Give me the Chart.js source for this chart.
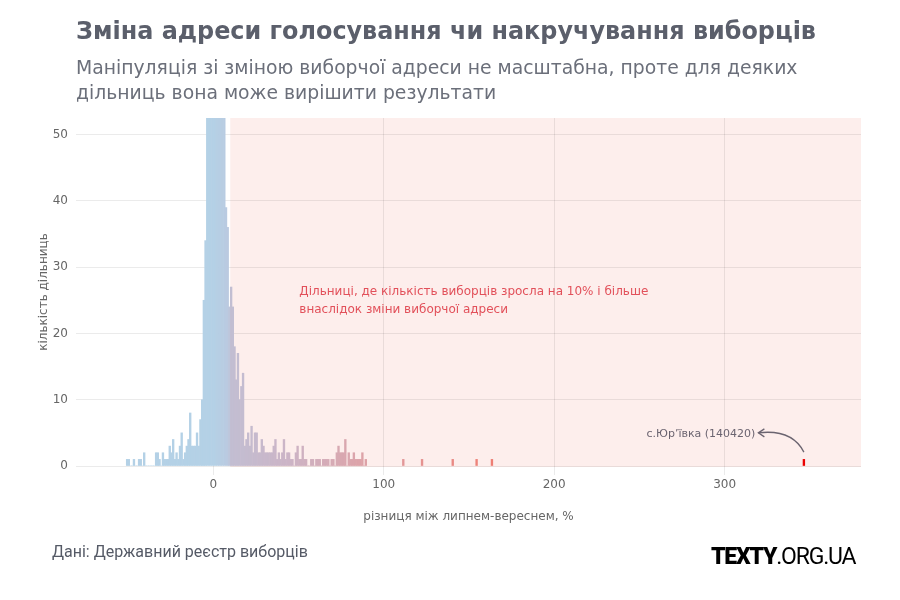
<!DOCTYPE html>
<html>
<head>
<meta charset="utf-8">
<script src="https://cdn.jsdelivr.net/npm/chart.js@4.4.0/dist/chart.umd.min.js"></script>
<style>
  body { margin: 0; background: #fff; font-family: "DejaVu Sans", sans-serif; }
  #wrap { position: relative; width: 900px; height: 600px; overflow: hidden; }
  #histChart { position: absolute; left: 0; top: 0; }
  .title { position: absolute; left: 76px; top: 17px; margin: 0; font-size: 23.9px; font-weight: bold; color: #5b5f6b; white-space: nowrap; }
  .subtitle { position: absolute; left: 76px; top: 55px; font-size: 18.8px; line-height: 25px; color: #6b6f7a; white-space: nowrap; }
  .source { position: absolute; left: 52px; top: 542px; font-family: Roboto, sans-serif; font-size: 16px; color: #555a66; }
  .logo { position: absolute; left: 711px; top: 543px; font-family: Roboto, sans-serif; font-size: 23px; color: #000; letter-spacing: -1.2px; white-space: nowrap; }
  .logo b { font-weight: 900; }
</style>
</head>
<body>
<div id="wrap">
  <canvas id="histChart" width="900" height="600"></canvas>
  <div class="title">Зміна адреси голосування чи накручування виборців</div>
  <div class="subtitle">Маніпуляція зі зміною виборчої адреси не масштабна, проте для деяких<br>дільниць вона може вирішити результати</div>
  <div class="source">Дані: Державний реєстр виборців</div>
  <div class="logo"><b>TEXTY</b>.ORG.UA</div>
</div>
<script>
// bins of 1% (left edge), from -51 to 89
const binStart = -51;
const counts = [
  1, 1, 0, 0, 1, 0, 0, 1, 1, 0,      // -51 .. -42
  2, 0, 0, 0, 0, 0, 0, 2, 2, 1,      // -41 .. -32
  0, 2, 1, 1, 1, 3, 2, 4, 1, 2,      // -31 .. -22
  1, 3, 5, 1, 2, 3, 4, 8, 3, 3,      // -21 .. -12
  3, 5, 3, 7, 10, 25, 34, 70, 160, 330, // -11 .. -2
  600, 900, 700, 420, 230, 120, 75, 56, 39, 36, // -1 .. 8
  24, 27, 24, 18, 13, 17, 10, 12, 14, 3,   // 9 .. 18
  4, 5, 3, 6, 2, 5, 5, 2, 2, 4,      // 19 .. 28
  3, 2, 2, 2, 2, 2, 3, 4, 1, 2,      // 29 .. 38
  1, 2, 4, 1, 2, 2, 1, 1, 0, 2,      // 39 .. 48
  3, 1, 1, 3, 1, 1, 0, 0, 1, 1,      // 49 .. 58
  0, 1, 1, 1, 0, 1, 1, 1, 1, 0,      // 59 .. 68
  1, 1, 0, 2, 3, 2, 2, 2, 4, 0,      // 69 .. 78
  2, 1, 1, 2, 1, 1, 1, 1, 2, 0,      // 79 .. 88
  1                                  // 89
];
// separate outliers
const outlierBins = [111, 122, 140, 154, 163, 346];
const outlierCounts = [1, 1, 1, 1, 1, 1];

const xTicks = [0, 100, 200, 300];
const threshold = 10;
const noteLines = ["Дільниці, де кількість виборців зросла на 10% і більше", "внаслідок зміни виборчої адреси"];
const outlierLabel = "с.Юр’ївка (140420)";

// colour goes from blue to red with the growth
const colorStops = [
  [0, [180, 209, 230]],
  [9, [186, 202, 224]],
  [10.5, [194, 190, 210]],
  [45, [204, 180, 198]],
  [85, [220, 164, 170]],
  [160, [238, 128, 118]],
  [350, [235, 0, 0]]
];

function barColor(v) {
  if (v <= colorStops[0][0]) return 'rgb(' + colorStops[0][1].join(',') + ')';
  for (let i = 1; i < colorStops.length; i++) {
    if (v <= colorStops[i][0]) {
      const a = colorStops[i - 1], b = colorStops[i];
      const t = (v - a[0]) / (b[0] - a[0]);
      const c = a[1].map((k, j) => Math.round(k + (b[1][j] - k) * t));
      return 'rgb(' + c.join(',') + ')';
    }
  }
  return 'rgb(' + colorStops[colorStops.length - 1][1].join(',') + ')';
}

const points = counts.map((c, i) => ({ x: binStart + i + 0.5, y: c }));
outlierBins.forEach((b, i) => points.push({ x: b + 0.5, y: outlierCounts[i] }));
const colors = points.map(p => barColor(p.x));

const FONT = '"DejaVu Sans", sans-serif';

const decorPlugin = {
  id: 'decor',
  beforeDraw(chart) {
    const { ctx, chartArea, scales } = chart;
    const x0 = scales.x.getPixelForValue(threshold);
    ctx.save();
    ctx.fillStyle = '#fdeeec';
    ctx.fillRect(x0, chartArea.top, chartArea.right - x0, chartArea.bottom - chartArea.top + 1);
    ctx.restore();
  },
  afterDatasetsDraw(chart) {
    const { ctx, scales } = chart;
    const x = scales.x, y = scales.y;
    ctx.save();
    // note in the pink area
    ctx.font = '12px ' + FONT;
    ctx.fillStyle = '#e2505a';
    ctx.textBaseline = 'middle';
    ctx.textAlign = 'left';
    ctx.fillText(noteLines[0], x.getPixelForValue(50.5), y.getPixelForValue(26.2));
    ctx.fillText(noteLines[1], x.getPixelForValue(50.5), y.getPixelForValue(23.6));

    // outlier label + curved arrow
    const last = outlierBins[outlierBins.length - 1] + 0.5;
    const sx = x.getPixelForValue(last), sy = y.getPixelForValue(2.1);
    const ex = x.getPixelForValue(319.8), ey = y.getPixelForValue(5.0);
    ctx.font = '11px ' + FONT;
    ctx.fillStyle = '#6b6470';
    ctx.textAlign = 'right';
    ctx.fillText(outlierLabel, ex - 3, ey + 1);
    ctx.strokeStyle = '#6b6470';
    ctx.lineWidth = 1.3;
    ctx.beginPath();
    ctx.moveTo(sx, sy);
    ctx.quadraticCurveTo(sx - 12, ey - 4, ex, ey);
    ctx.stroke();
    ctx.beginPath();
    ctx.moveTo(ex + 6, ey - 4);
    ctx.lineTo(ex, ey);
    ctx.lineTo(ex + 6, ey + 4);
    ctx.stroke();
    ctx.restore();
  }
};

const ctx = document.getElementById('histChart');
const histChart = new Chart(ctx, {
  type: 'bar',
  data: {
    datasets: [{
      data: points,
      backgroundColor: colors,
      borderWidth: 0,
      barPercentage: 1,
      categoryPercentage: 1
    }]
  },
  options: {
    responsive: false,
    animation: false,
    layout: { padding: { left: 37, right: 39, top: 118, bottom: 76 } },
    plugins: {
      legend: { display: false },
      tooltip: { enabled: false }
    },
    scales: {
      x: {
        type: 'linear',
        min: -80.5,
        max: 380,
        offset: false,
        afterFit: s => { s.height = 58; },
        afterBuildTicks: s => { s.ticks = xTicks.map(v => ({ value: v })); },
        ticks: { font: { family: FONT, size: 12 }, color: '#666', padding: 3, maxRotation: 0 },
        grid: { offset: false, color: 'rgba(0,0,0,0.08)', tickLength: 9, tickColor: 'rgba(0,0,0,0.08)' },
        border: { display: false },
        title: {
          display: true,
          text: 'різниця між липнем-вереснем, %',
          font: { family: FONT, size: 12 },
          color: '#666',
          padding: 0
        }
      },
      y: {
        min: 0,
        max: 52.5,
        afterFit: s => { s.width = 39; },
        ticks: { stepSize: 10, includeBounds: false, font: { family: FONT, size: 12 }, color: '#666', padding: 8 },
        grid: { color: 'rgba(0,0,0,0.08)', drawTicks: false },
        border: { display: false },
        title: {
          display: true,
          text: 'кількість дільниць',
          font: { family: FONT, size: 12 },
          color: '#666',
          padding: 0
        }
      }
    }
  },
  plugins: [decorPlugin]
});
</script>
</body>
</html>
